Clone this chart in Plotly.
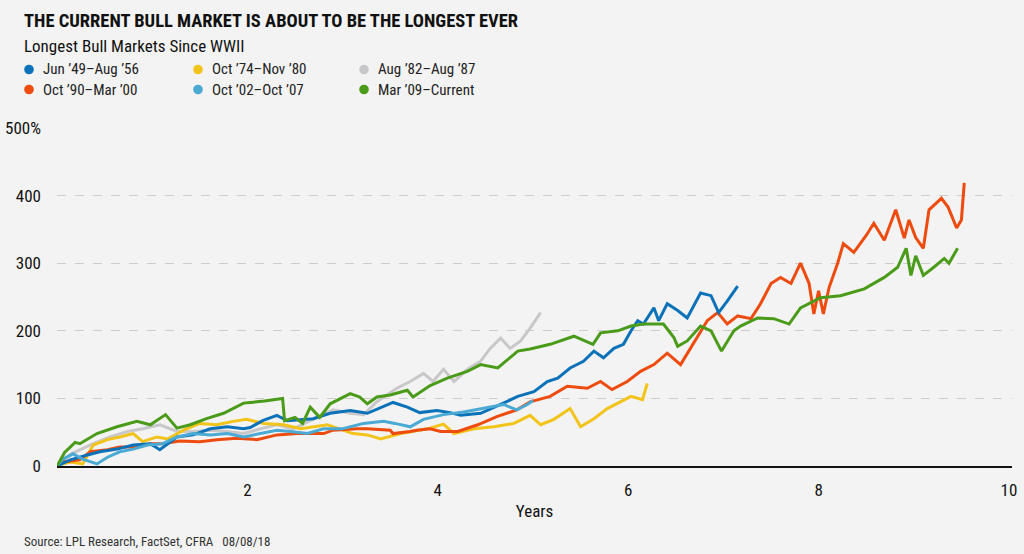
import plotly.graph_objects as go

# ---------------- data ----------------
names = ["Jun ’49–Aug ’56", "Oct ’74–Nov ’80", "Aug ’82–Aug ’87",
         "Oct ’90–Mar ’00", "Oct ’02–Oct ’07", "Mar ’09–Current"]
colors = ["#0b72b9", "#f2c318", "#c8c8ca", "#ee4b0f", "#4aaad3", "#4a9b1a"]

blue_x = [0, 0.14, 0.31, 0.45, 0.63, 0.80, 0.98, 1.08, 1.26, 1.43, 1.61, 1.79, 1.96, 2.03, 2.16,
          2.31, 2.42, 2.69, 2.87, 3.08, 3.26, 3.42, 3.53, 3.68, 3.81, 3.99, 4.13, 4.24, 4.45,
          4.66, 4.84, 5.01, 5.15, 5.26, 5.39, 5.53, 5.64, 5.74, 5.85, 5.95, 6.03, 6.10, 6.16,
          6.27, 6.32, 6.41, 6.52, 6.62, 6.76, 6.87, 6.95, 7.04, 7.15]
blue_y = [0, 9, 16, 21, 25, 31, 33, 24, 43, 46, 55, 58, 55, 57, 67,
          75, 67, 70, 78, 82, 78, 87, 94, 87, 79, 82, 79, 75, 78,
          91, 103, 110, 125, 130, 145, 155, 170, 160, 174, 180, 200, 215, 210,
          234, 215, 240, 230, 219, 256, 252, 227, 244, 266]

yellow_x = [0, 0.03, 0.14, 0.27, 0.38, 0.53, 0.66, 0.80, 0.90, 1.05, 1.16, 1.33, 1.50, 1.68, 1.85,
            1.99, 2.17, 2.38, 2.56, 2.84, 3.11, 3.26, 3.40, 3.61, 3.89, 4.06, 4.17, 4.38, 4.59,
            4.80, 4.97, 5.08, 5.22, 5.39, 5.50, 5.64, 5.78, 5.92, 6.03, 6.15, 6.20]
yellow_y = [0, 2, 6, 3, 31, 39, 43, 48, 36, 43, 40, 53, 63, 61, 66,
            69, 63, 61, 55, 61, 48, 46, 40, 48, 55, 62, 48, 55, 58,
            63, 75, 61, 69, 85, 58, 70, 85, 95, 103, 98, 122]

gray_x = [0, 0.15, 0.38, 0.56, 0.74, 0.90, 1.08, 1.26, 1.43, 1.61, 1.79, 1.96, 2.14, 2.31, 2.48,
          2.70, 2.90, 3.08, 3.22, 3.36, 3.57, 3.71, 3.85, 3.95, 4.06, 4.17, 4.31, 4.45, 4.55,
          4.66, 4.76, 4.87, 4.97, 5.08]
gray_y = [0, 18, 33, 43, 51, 55, 61, 51, 51, 53, 51, 48, 55, 61, 55,
          70, 83, 78, 76, 95, 115, 125, 137, 125, 143, 125, 143, 155, 174,
          189, 174, 185, 204, 227]

orange_x = [0, 0.06, 0.24, 0.35, 0.53, 0.66, 0.84, 0.98, 1.11, 1.29, 1.50, 1.68, 1.89, 2.10, 2.31,
            2.52, 2.80, 2.90, 3.15, 3.26, 3.50, 3.53, 3.71, 3.78, 3.92, 4.03, 4.21, 4.42, 4.62,
            4.83, 4.97, 5.18, 5.36, 5.57, 5.71, 5.83, 5.99, 6.13, 6.27, 6.41, 6.55, 6.69, 6.83,
            6.94, 7.04, 7.15, 7.29, 7.39, 7.50, 7.60, 7.71, 7.81, 7.90, 7.95, 8.00, 8.05, 8.11,
            8.20, 8.26, 8.37, 8.50, 8.58, 8.69, 8.81, 8.90, 8.95, 9.02, 9.10, 9.16, 9.29, 9.36,
            9.45, 9.50, 9.53]
orange_y = [0, 6, 9, 21, 24, 28, 28, 33, 33, 37, 36, 39, 41, 39, 46,
            48, 48, 53, 55, 55, 53, 48, 51, 53, 55, 51, 51, 61, 73,
            83, 95, 103, 118, 115, 125, 113, 125, 140, 150, 167, 150, 182, 215,
            227, 210, 222, 218, 240, 270, 279, 270, 300, 270, 225, 259, 225, 264,
            300, 329, 316, 341, 359, 334, 379, 337, 364, 338, 322, 379, 396, 383,
            352, 364, 419]

lblue_x = [0, 0.06, 0.17, 0.27, 0.42, 0.53, 0.66, 0.80, 0.95, 1.11, 1.26, 1.43, 1.61, 1.79, 1.96,
           2.14, 2.31, 2.45, 2.63, 2.80, 3.00, 3.22, 3.43, 3.55, 3.71, 3.85, 4.06, 4.27, 4.48,
           4.69, 4.83, 4.94, 5.00]
lblue_y = [0, 10, 18, 10, 3, 13, 21, 25, 31, 33, 43, 48, 46, 48, 43,
           48, 53, 51, 48, 55, 55, 63, 66, 63, 58, 69, 76, 80, 85,
           91, 83, 91, 97]

green_x = [0, 0.08, 0.19, 0.24, 0.42, 0.63, 0.84, 0.98, 1.14, 1.26, 1.40, 1.57, 1.75, 1.96, 2.03,
           2.18, 2.37, 2.39, 2.50, 2.58, 2.66, 2.76, 2.87, 3.08, 3.18, 3.26, 3.36, 3.50, 3.68,
           3.74, 3.92, 4.10, 4.31, 4.45, 4.63, 4.84, 4.97, 5.18, 5.43, 5.63, 5.71, 5.89, 6.03,
           6.16, 6.37, 6.48, 6.52, 6.62, 6.76, 6.87, 6.98, 7.11, 7.18, 7.36, 7.53, 7.69, 7.81,
           8.02, 8.23, 8.48, 8.69, 8.83, 8.92, 8.97, 9.02, 9.10, 9.21, 9.32, 9.37, 9.46]
green_y = [0, 20, 35, 33, 48, 58, 66, 61, 76, 56, 61, 70, 78, 93, 94,
           96, 100, 67, 72, 63, 87, 72, 92, 107, 102, 92, 102, 105, 112,
           102, 119, 130, 140, 150, 145, 170, 173, 180, 192, 180, 197, 200, 207,
           210, 210, 190, 177, 185, 207, 200, 170, 200, 207, 219, 218, 210, 234,
           249, 252, 262, 279, 294, 322, 282, 311, 282, 294, 307, 300, 322]

series_x = [blue_x, yellow_x, gray_x, orange_x, lblue_x, green_x]
series_y = [blue_y, yellow_y, gray_y, orange_y, lblue_y, green_y]
draw_order = [2, 1, 3, 0, 4, 5]

y_ticks = [0, 100, 200, 300, 400, 500]
y_ticktext = ["0", "100", "200", "300", "400", "500%"]
x_ticks = [2, 4, 6, 8, 10]

title = "THE CURRENT BULL MARKET IS ABOUT TO BE THE LONGEST EVER"
subtitle = "Longest Bull Markets Since WWII"
source = "Source: LPL Research, FactSet, CFRA   08/08/18"

# ---------------- figure ----------------
FONT = "Liberation Sans Narrow, Roboto Condensed, DejaVu Sans Condensed, Arial Narrow, sans-serif"
BG = "#f3f3f3"
W, H = 1024, 554
ML, MR, MT, MB = 57, 12, 128, 88
PW, PH = W - ML - MR, H - MT - MB

def px(xp):
    return (xp - ML) / PW

def py(yp):
    return (H - MB - yp) / PH

fig = go.Figure()
for i in draw_order:
    fig.add_trace(go.Scatter(x=series_x[i], y=series_y[i], mode="lines", name=names[i],
                             line=dict(color=colors[i], width=3), showlegend=False,
                             cliponaxis=True))

annotations = [
    dict(text="<b>" + title + "</b>", x=px(22), y=py(21), xref="paper", yref="paper",
         xanchor="left", yanchor="middle", showarrow=False,
         font=dict(family=FONT, size=18.5, color="#111111")),
    dict(text=subtitle, x=px(22), y=py(46), xref="paper", yref="paper",
         xanchor="left", yanchor="middle", showarrow=False,
         font=dict(family=FONT, size=17, color="#111111")),
    dict(text=source, x=px(22), y=py(541), xref="paper", yref="paper",
         xanchor="left", yanchor="middle", showarrow=False,
         font=dict(family=FONT, size=13, color="#333333")),
]
shapes = []
col_dot = [29, 198, 364]
row_y = [69.5, 89.5]
for k in range(6):
    c, r = k % 3, k // 3
    shapes.append(dict(type="circle", xref="paper", yref="paper",
                       xsizemode="pixel", ysizemode="pixel",
                       xanchor=px(col_dot[c]), yanchor=py(row_y[r]),
                       x0=-4.8, x1=4.8, y0=-4.8, y1=4.8,
                       fillcolor=colors[k], line=dict(width=0)))
    annotations.append(dict(text=names[k], x=px(col_dot[c] + 12), y=py(row_y[r]),
                            xref="paper", yref="paper", xanchor="left", yanchor="middle",
                            showarrow=False, font=dict(family=FONT, size=15, color="#222222")))

fig.update_layout(
    width=W, height=H,
    margin=dict(l=ML, r=MR, t=MT, b=MB, pad=0),
    paper_bgcolor=BG, plot_bgcolor=BG,
    font=dict(family=FONT, size=16, color="#111111"),
    annotations=annotations, shapes=shapes,
    showlegend=False,
)
fig.update_xaxes(range=[0, (W - MR - ML) / 95.2], tickvals=x_ticks, showgrid=False,
                 zeroline=False, showline=True, linecolor="#111111", linewidth=1.5,
                 ticks="", ticklabelstandoff=8, tickfont=dict(family=FONT, size=17),
                 automargin=False,
                 title=dict(text="Years", standoff=6, font=dict(family=FONT, size=17)))
fig.update_yaxes(range=[0, 500], tickvals=y_ticks, ticktext=y_ticktext,
                 showgrid=True, gridcolor="#cdcdcd", griddash="dash", gridwidth=1,
                 zeroline=False, showline=False, ticks="", ticklabelstandoff=15,
                 automargin=False, tickfont=dict(family=FONT, size=17))

fig.write_html("out.html", config={"displayModeBar": False},
               post_script="document.body.style.margin='0px';document.body.style.background='#f3f3f3';")
